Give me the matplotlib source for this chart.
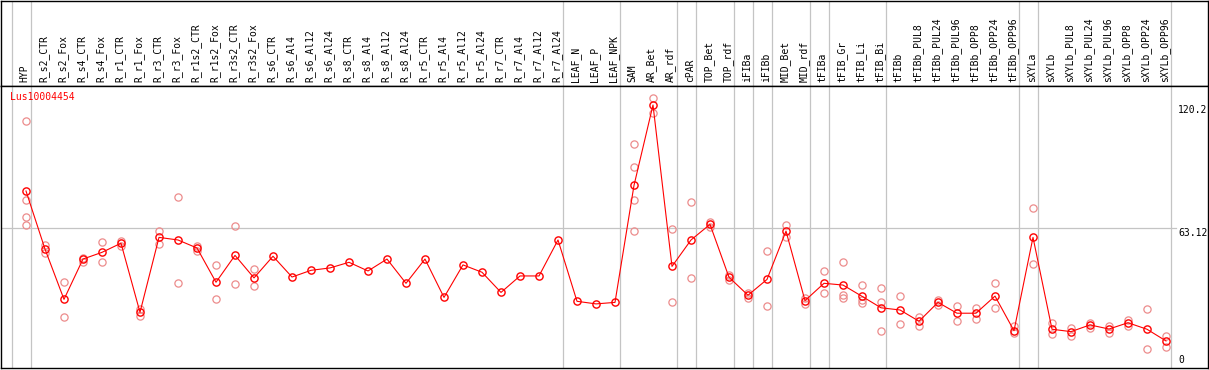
"""Expression profile of one gene across tissues/treatments (replicates + mean line)."""

import matplotlib

matplotlib.use("Agg")
import matplotlib.pyplot as plt

gene = "Lus10004454"

samples = [
    "HYP", "R_s2_CTR", "R_s2_Fox", "R_s4_CTR", "R_s4_Fox", "R_r1_CTR", "R_r1_Fox",
    "R_r3_CTR", "R_r3_Fox", "R_r1s2_CTR", "R_r1s2_Fox", "R_r3s2_CTR", "R_r3s2_Fox",
    "R_s6_CTR", "R_s6_Al4", "R_s6_Al12", "R_s6_Al24", "R_s8_CTR", "R_s8_Al4",
    "R_s8_Al12", "R_s8_Al24", "R_r5_CTR", "R_r5_Al4", "R_r5_Al12", "R_r5_Al24",
    "R_r7_CTR", "R_r7_Al4", "R_r7_Al12", "R_r7_Al24", "LEAF_N", "LEAF_P", "LEAF_NPK",
    "SAM", "AR_Bet", "AR_rdf", "cPAR", "TOP_Bet", "TOP_rdf", "iFIBa", "iFIBb",
    "MID_Bet", "MID_rdf", "tFIBa", "tFIB_Gr", "tFIB_Li", "tFIB_Bi", "tFIBb",
    "tFIBb_PUL8", "tFIBb_PUL24", "tFIBb_PUL96", "tFIBb_OPP8", "tFIBb_OPP24",
    "tFIBb_OPP96", "sXYLa", "sXYLb", "sXYLb_PUL8", "sXYLb_PUL24", "sXYLb_PUL96",
    "sXYLb_OPP8", "sXYLb_OPP24", "sXYLb_OPP96",
]

means = [
    80.3, 53.5, 30.3, 48.9, 52.0, 56.2, 24.3, 58.9, 57.7, 54.0, 38.2, 50.6, 40.2,
    50.2, 40.6, 43.7, 44.8, 47.4, 43.4, 48.9, 37.7, 48.9, 31.2, 46.2, 42.8,
    33.5, 41.1, 41.1, 57.7, 29.4, 28.2, 28.9,
    82.9, 120.0, 45.5, 57.7, 64.9, 40.5, 32.2, 39.5, 61.8, 29.7, 37.7, 36.9,
    31.7, 26.4, 25.4, 20.2, 28.9, 23.9, 23.9, 31.8, 15.8, 58.9, 16.5, 15.4,
    18.5, 16.6, 19.5, 16.5, 11.1,
]

replicates = [
    [112.8, 76.0, 68.2, 64.5], [55.4, 51.8], [38.2, 22.0], [49.5, 47.7], [56.8, 47.4],
    [57.4, 54.9], [25.8, 22.6], [62.0, 55.7], [77.4, 37.7], [54.9, 52.8],
    [46.2, 30.3], [64.0, 37.4], [44.2, 36.3],
    [], [], [], [], [], [], [], [], [], [], [], [], [], [], [], [], [], [], [],
    [102.0, 91.2, 76.2, 61.8], [123.2, 116.2], [62.6, 28.9], [75.1, 40.0],
    [66.2, 63.8], [41.5, 39.2], [33.1, 30.8], [52.5, 27.1], [64.6, 59.2],
    [30.8, 28.2], [43.4, 33.1], [47.4, 32.3, 30.8], [36.9, 30.0, 28.5],
    [35.4, 29.2, 15.6], [31.8, 18.9], [22.3, 18.1], [30.0, 27.7], [27.2, 20.4],
    [26.2, 21.2], [37.7, 26.2], [18.0, 14.6], [72.3, 46.5], [19.5, 14.2],
    [16.9, 13.4], [19.2, 16.9], [18.1, 14.6], [20.8, 18.1], [25.7, 7.2],
    [13.4, 8.5],
]

# index of the last sample in each group (-1 = left edge)
group_ends = [-1, 0, 28, 31, 34, 35, 37, 38, 39, 41, 42, 45, 52, 53, 60]

max_value = 120.2
ref_value = 63.12

W, H = 1209, 370
fig = plt.figure(figsize=(W / 100, H / 100), dpi=100)

# pixel geometry of the reference layout
x_left, x_right = 1, 1208
head_top, head_bottom, plot_bottom = 0.5, 86, 368
step = 19.0
x0 = 26.0
px_per_unit = 2.1667
zero_px = 365.0

xlim = ((x_left - x0) / step, (x_right - x0) / step)
ylim = ((zero_px - plot_bottom) / px_per_unit, (zero_px - head_bottom) / px_per_unit)

head = fig.add_axes([x_left / W, 1 - head_bottom / H, (x_right - x_left) / W,
                     (head_bottom - head_top) / H])
ax = fig.add_axes([x_left / W, 1 - plot_bottom / H, (x_right - x_left) / W,
                   (plot_bottom - head_bottom) / H])

grey = "#c4c4c4"
for a in (head, ax):
    a.set_xlim(*xlim)
    a.set_xticks([])
    a.set_yticks([])
    for s in a.spines.values():
        s.set_color("black")
        s.set_linewidth(1.0)
    for g in group_ends:
        a.axvline(g + 4.5 / step, color=grey, lw=0.9, zorder=0)

ax.set_ylim(*ylim)
head.set_ylim(0, 1)

xs = list(range(len(samples)))

# column labels
for i, name in enumerate(samples):
    head.text(i - 1.2 / step, 4 / (head_bottom - head_top), name, rotation=90,
              ha="center", va="bottom", fontsize=7, family="DejaVu Sans Mono")

# reference line
ax.axhline(ref_value, xmax=(1176 - x_left) / (x_right - x_left), color=grey, lw=0.9,
           zorder=0)

# replicates
for i, reps in enumerate(replicates):
    if reps:
        ax.plot([i] * len(reps), reps, linestyle="none", marker="o", ms=5.2,
                mfc="none", mec="#ec8c8c", mew=0.9, zorder=2)

ax.plot(xs, means, color="red", lw=0.8, zorder=3)
ax.plot(xs, means, linestyle="none", marker="o", ms=5.2, mfc="none", mec="red",
        mew=1.0, zorder=4)

ax.text((10 - x0) / step, (zero_px - 97) / px_per_unit, gene, color="red",
        fontsize=7, family="DejaVu Sans Mono", ha="left", va="center")

lab_x = (1178 - x0) / step
ax.text(lab_x, max_value, f"{max_value}", fontsize=7, family="DejaVu Sans Mono",
        ha="left", va="top")
ax.text(lab_x, ref_value, f"{ref_value}", fontsize=7, family="DejaVu Sans Mono",
        ha="left", va="top")
ax.text(lab_x, 0, "0", fontsize=7, family="DejaVu Sans Mono", ha="left", va="bottom")

fig.savefig("out.png", dpi=100)
